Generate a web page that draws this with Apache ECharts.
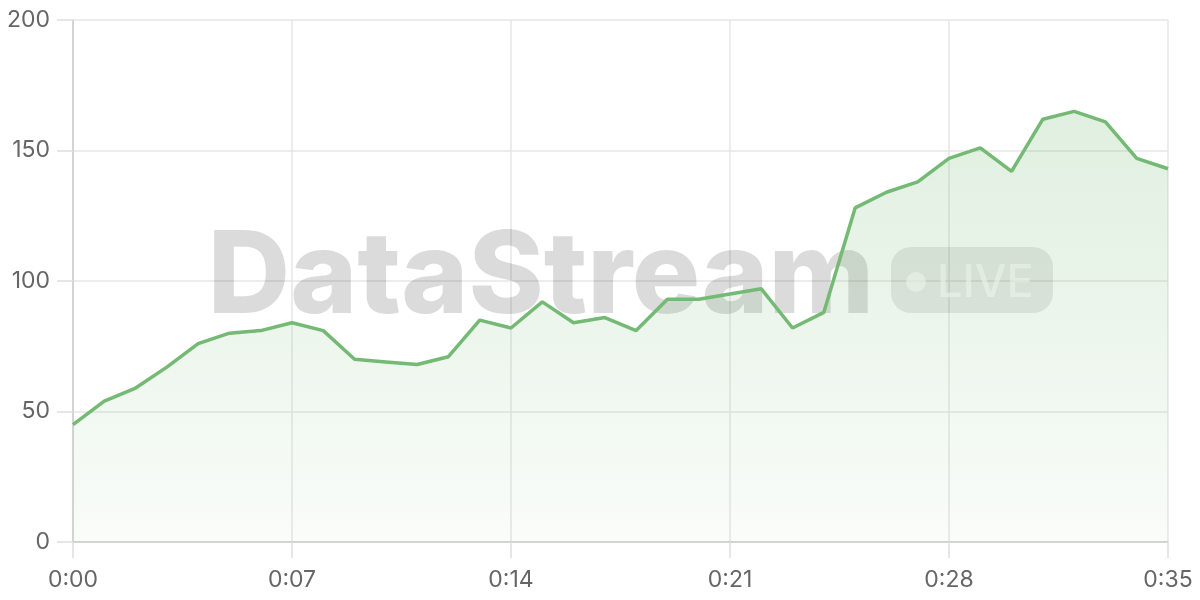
<!DOCTYPE html>
<html>
<head>
<meta charset="utf-8">
<script src="https://cdn.jsdelivr.net/npm/echarts@6/dist/echarts.min.js"></script>
<style>html,body{margin:0;padding:0;background:#fff;}#main{width:1200px;height:600px;}</style>
</head>
<body>
<div id="main"></div>
<script>
const categories = ['0:00','0:01','0:02','0:03','0:04','0:05','0:06','0:07','0:08','0:09','0:10','0:11','0:12','0:13','0:14','0:15','0:16','0:17','0:18','0:19','0:20','0:21','0:22','0:23','0:24','0:25','0:26','0:27','0:28','0:29','0:30','0:31','0:32','0:33','0:34','0:35'];
const values = [45,54,59,67,76,80,81,84,81,70,69,68,71,85,82,92,84,86,81,93,93,95,97,82,88,128,134,138,147,151,142,162,165,161,147,143];
const yTicks = {min: 0, max: 200, interval: 50};
const watermarkTitle = 'DataStream';
const watermarkBadge = 'LIVE';

const chart = echarts.init(document.getElementById('main'), null, {renderer: 'canvas'});
const FONT = 'Inter, "Noto Sans", sans-serif';
chart.setOption({
  animation: false,
  backgroundColor: '#ffffff',
  grid: {left: 73, right: 32, top: 20, bottom: 58, containLabel: false},
  graphic: [
    {type: 'text', z: 1, silent: true,
     style: {x: 541, y: 279, text: watermarkTitle, textAlign: 'center', textVerticalAlign: 'middle',
             font: '800 114px Inter, sans-serif', fill: 'rgba(0,0,0,0.14)'}},
    {type: 'rect', z: 1, silent: true,
     shape: {x: 891, y: 247, width: 162, height: 66, r: 20},
     style: {fill: 'rgba(0,0,0,0.09)'}},
    {type: 'circle', z: 1, silent: true,
     shape: {cx: 916, cy: 282, r: 10},
     style: {fill: 'rgba(255,255,255,0.6)'}},
    {type: 'text', z: 1, silent: true,
     style: {x: 937, y: 283, text: watermarkBadge, textAlign: 'left', textVerticalAlign: 'middle',
             font: '500 45px Inter, sans-serif', fill: 'rgba(255,255,255,0.6)'}}
  ],
  xAxis: {
    type: 'category',
    data: categories,
    boundaryGap: false,
    axisLine: {show: true, lineStyle: {color: '#cccccc', width: 1.5}},
    axisTick: {show: true, inside: false, interval: 6, length: 16, lineStyle: {color: '#dedede', width: 1.5}},
    axisLabel: {interval: 6, color: '#666666', fontSize: 23, fontFamily: FONT, margin: 27},
    splitLine: {show: true, interval: 6, lineStyle: {color: '#e6e6e6', width: 1.5}}
  },
  yAxis: {
    type: 'value',
    min: yTicks.min, max: yTicks.max, interval: yTicks.interval,
    axisLine: {show: true, lineStyle: {color: '#cccccc', width: 1.5}},
    axisTick: {show: true, inside: false, length: 16, lineStyle: {color: '#dedede', width: 1.5}},
    axisLabel: {color: '#666666', fontSize: 23, fontFamily: FONT, margin: 23},
    splitLine: {show: true, lineStyle: {color: '#e6e6e6', width: 1.5}}
  },
  series: [{
    type: 'line',
    data: values,
    z: 3,
    showSymbol: false,
    symbol: 'none',
    lineStyle: {color: '#74b974', width: 3.5},
    itemStyle: {color: '#74b974'},
    areaStyle: {
      color: new echarts.graphic.LinearGradient(0, 0, 0, 1, [
        {offset: 0, color: 'rgba(116,185,116,0.32)'},
        {offset: 1, color: 'rgba(116,185,116,0.06)'}
      ])
    }
  }]
});
</script>
</body>
</html>
